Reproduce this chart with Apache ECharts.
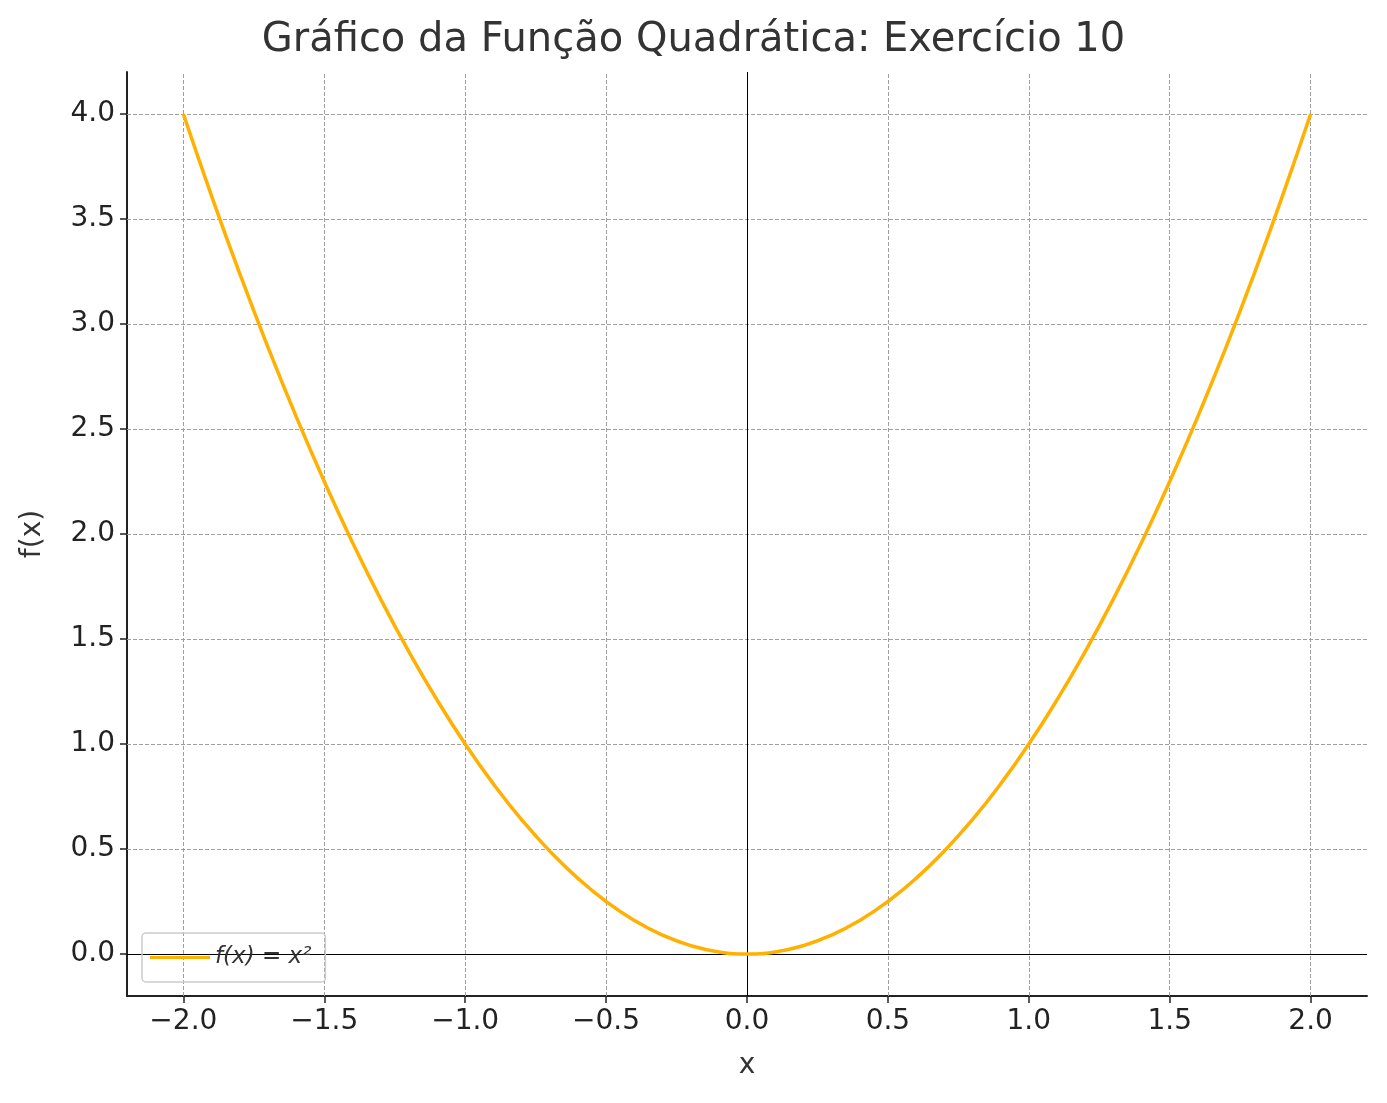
<!DOCTYPE html>
<html><head><meta charset="utf-8">
<script src="https://cdn.jsdelivr.net/npm/echarts@6/dist/echarts.min.js"></script>
<style>html,body{margin:0;padding:0;background:#fff}#c{width:1387px;height:1103px}</style>
</head><body><div id="c"></div>
<script>
const xValues = [-2.0,-1.9,-1.8,-1.7,-1.6,-1.5,-1.4,-1.3,-1.2,-1.1,-1.0,-0.9,-0.8,-0.7,-0.6,-0.5,-0.4,-0.3,-0.2,-0.1,0.0,0.1,0.2,0.3,0.4,0.5,0.6,0.7,0.8,0.9,1.0,1.1,1.2,1.3,1.4,1.5,1.6,1.7,1.8,1.9,2.0];
const yValues = [4.0,3.61,3.24,2.89,2.56,2.25,1.96,1.69,1.44,1.21,1.0,0.81,0.64,0.49,0.36,0.25,0.16,0.09,0.04,0.01,0.0,0.01,0.04,0.09,0.16,0.25,0.36,0.49,0.64,0.81,1.0,1.21,1.44,1.69,1.96,2.25,2.56,2.89,3.24,3.61,4.0];
const xTicks = [-2.0,-1.5,-1.0,-0.5,0.0,0.5,1.0,1.5,2.0];
const yTicks = [0.0,0.5,1.0,1.5,2.0,2.5,3.0,3.5,4.0];
const seriesName = 'f(x) = x²';
const fmt = v => (v < 0 ? '\u2212' : '') + Math.abs(v).toFixed(1);
const font = 'DejaVu Sans';
const grid = {type:'dashed', color:'#a0a0a0', width:1};
const marks = xTicks.map(v => ({xAxis:v, lineStyle:grid}))
  .concat(yTicks.map(v => ({yAxis:v, lineStyle:grid})))
  .concat([{xAxis:0, lineStyle:{type:'solid',color:'#000',width:1}},{yAxis:0, lineStyle:{type:'solid',color:'#000',width:1}}]);
const chart = echarts.init(document.getElementById('c'));
chart.setOption({
  animation:false,
  textStyle:{fontFamily:font},
  title:{text:'Gráfico da Função Quadrática: Exercício 10', left:'center', top:16,
    textStyle:{fontFamily:font, fontSize:40, fontWeight:'normal', color:'#333'}},
  grid:{left:127, right:20, top:72, bottom:107},
  legend:{left:142, bottom:121, orient:'vertical', borderColor:'#ccc', borderWidth:1.5, borderRadius:4,
    padding:[13,14,13,8], itemWidth:60, itemHeight:3, icon:'rect',
    textStyle:{fontFamily:font, fontSize:23, fontStyle:'italic', color:'#333'}, data:[seriesName]},
  xAxis:{type:'value', min:-2.2, max:2.2, name:'x', nameLocation:'middle', nameGap:56,
    nameTextStyle:{fontSize:28, color:'#333', fontFamily:font},
    axisLine:{onZero:false, lineStyle:{color:'#222', width:2}},
    axisTick:{customValues:xTicks, length:7, lineStyle:{color:'#222', width:1.5}},
    axisLabel:{customValues:xTicks, formatter:fmt, fontSize:28, color:'#222', margin:12, fontFamily:font},
    splitLine:{show:false}},
  yAxis:{type:'value', min:-0.2, max:4.2, name:'f(x)', nameLocation:'middle', nameGap:80,
    nameTextStyle:{fontSize:28, color:'#333', fontFamily:font},
    axisLine:{show:true, onZero:false, lineStyle:{color:'#222', width:2}},
    axisTick:{show:true, customValues:yTicks, length:7, lineStyle:{color:'#222', width:1.5}},
    axisLabel:{customValues:yTicks, formatter:fmt, fontSize:28, color:'#222', margin:12, fontFamily:font},
    splitLine:{show:false}},
  series:[{name:seriesName, type:'line', smooth:true, showSymbol:false, symbol:'none',
    lineStyle:{color:'#FFB000', width:3.5}, itemStyle:{color:'#FFB000'}, z:5,
    data:xValues.map((x,i)=>[x,yValues[i]]),
    markLine:{silent:true, symbol:'none', label:{show:false}, data:marks, z:1}}]
});
</script></body></html>
